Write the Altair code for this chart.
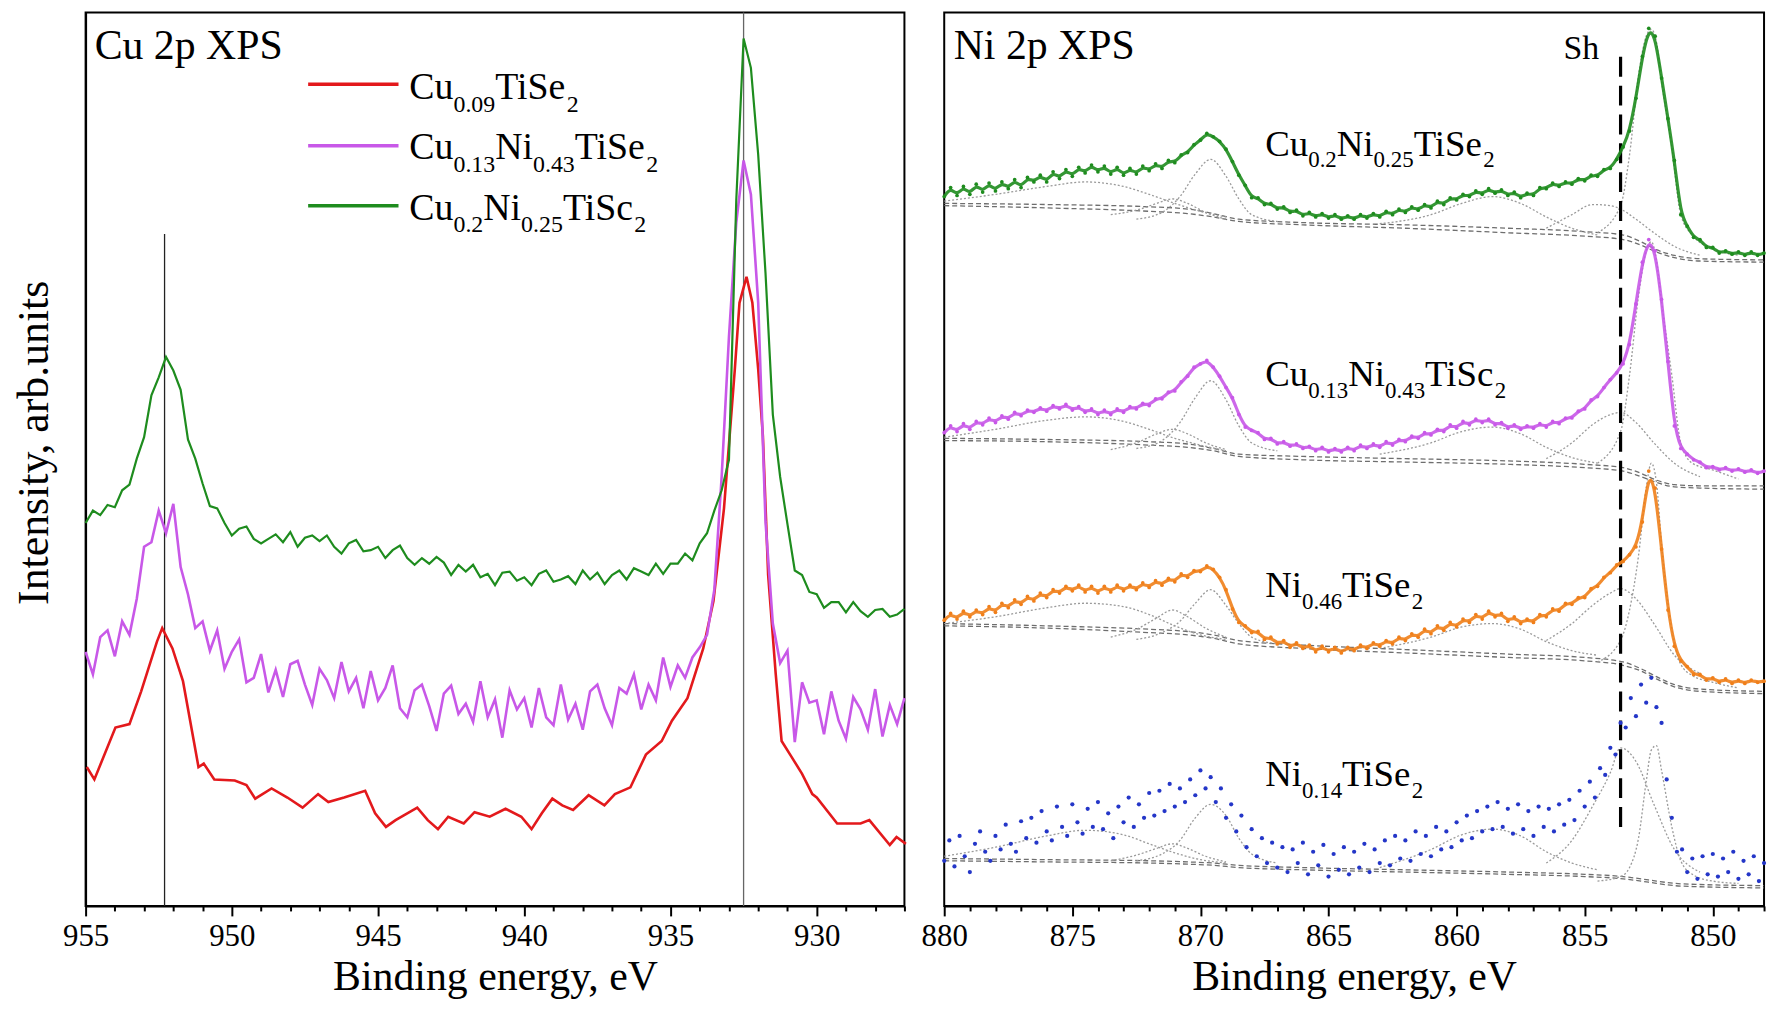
import altair as alt
import pandas as pd

FONT = "Liberation Serif"

# ---------------- Cu 2p XPS (left panel) ----------------
CU_START, CU_STEP = 955.0, 0.25
cu_green = [339, 350, 346, 355, 353, 368, 373, 396, 415, 452, 468, 486, 474, 457, 413, 396,
            374, 354, 352, 339, 328, 334, 336, 325, 321, 325, 329, 322, 331, 318, 326, 328,
            323, 328, 318, 312, 321, 324, 314, 315, 318, 308, 315, 319, 308, 302, 308, 303,
            309, 304, 293, 302, 296, 302, 291, 294, 284, 295, 296, 288, 291, 284, 294, 297,
            287, 289, 292, 285, 297, 289, 295, 285, 293, 297, 289, 299, 296, 293, 303, 294,
            303, 303, 312, 306, 321, 330,
            350, 368, 395, 625, 768, 742, 665, 560, 435, 380, 338,
            297, 293, 278, 276, 264, 269, 269, 260, 269, 261, 256, 262, 263, 256, 258, 263]
cu_magenta = [225, 205, 238, 244, 221, 252, 240, 272, 318, 322, 350, 330, 356, 300, 276, 246,
              252, 226, 244, 210, 225, 236, 198, 202, 223, 189, 209, 185, 214, 217, 196, 178,
              210, 200, 184, 216, 190, 202, 175, 208, 182, 193, 213, 175, 167, 191, 196, 177,
              155, 188, 195, 170, 179, 163, 199, 167, 183, 149, 191, 174, 184, 158, 193, 167,
              160, 196, 165, 179, 156, 190, 196, 175, 160, 193, 188, 205, 174, 196, 182, 220,
              194, 213, 202, 220, 229,
              240, 280, 380, 504, 605, 660, 630, 534, 340, 250, 215, 226, 145, 198, 180,
              182, 152, 190, 164, 148, 185, 174, 156, 192, 150, 178, 161, 184]
cu_red_ev = [954.96, 954.7, 953.98, 953.5, 953.1, 952.56, 952.38, 952.03, 951.67, 951.3, 951.14,
             950.96, 950.6, 949.9, 949.5, 949.2, 948.64, 948.1, 947.58, 947.05, 946.7, 946.16,
             945.44, 945.1, 944.73, 944.4, 944.0, 943.66, 943.3, 942.95, 942.6, 942.07, 941.7,
             941.18, 940.64, 940.1, 939.75, 939.4, 939.04, 938.7, 938.33, 937.8, 937.26, 936.9,
             936.37, 935.84, 935.3, 934.95, 934.42, 933.88, 933.53, 933.17, 932.8, 932.64, 932.4,
             932.2, 932.0, 931.84, 931.66, 931.4, 931.2, 930.86, 930.5, 930.15, 930.0, 929.3,
             928.5, 928.2, 927.5, 927.27, 926.95]
cu_red = [123, 112, 158, 161, 190, 234, 246, 228, 199, 146, 123,
          126, 112, 111, 107, 95, 104, 96, 87, 99, 92, 96,
          102, 82, 70, 76, 82, 87, 76, 68, 79, 73, 83,
          79, 86, 79, 68, 82, 95, 89, 85, 98, 89, 99,
          105, 134, 146, 164, 184, 228, 270, 352, 475, 534, 557,
          534, 475, 416, 293, 205, 146, 132, 117, 99, 96, 73,
          73, 76, 54, 61, 55]
cu_colors = ["#e3191c", "#c858e8", "#1e8c1e"]
cu_mark_ev = [952.3, 932.5]
cu_mark_top = [595, 791]

# ---------------- Ni 2p XPS (right panel) ----------------
NI_START, NI_STEP = 880.0, 0.25
ni_green = [628, 636, 629, 637, 630, 639, 632, 640, 633, 641, 635, 643, 636, 645, 641, 647,
            641, 650, 644, 652, 646, 654, 649, 656, 650, 655, 648, 654, 647, 653, 648, 655,
            651, 657, 653, 660, 658, 665, 667, 674, 678, 684, 681, 677, 670, 659, 647, 638,
            627, 627, 621, 622, 617, 619, 614, 616, 611, 614, 610, 613, 609, 612, 608, 611,
            608, 612, 609, 613, 610, 615, 612, 617, 614, 619, 616, 621, 618, 624, 621, 627,
            625, 630, 628, 633, 630, 635, 631, 634, 629, 632, 627, 631, 629, 636, 635, 640,
            637, 641, 639, 644, 642, 647, 646, 652, 653, 661, 672, 686, 715, 752, 777, 770,
            733, 697, 660, 612, 602, 592, 590, 583, 583, 578, 580, 577, 579, 576, 579, 576, 578]
ni_magenta = [419, 425, 420, 427, 422, 429, 426, 432, 428, 434, 431, 437, 434, 439, 437, 441,
              438, 443, 440, 444, 439, 442, 437, 440, 435, 439, 435, 440, 437, 442, 440, 445,
              443, 449, 449, 455, 456, 464, 469, 477, 480, 483, 477, 469, 459, 450, 435, 424,
              421, 419, 413, 414, 409, 411, 407, 409, 405, 407, 403, 406, 402, 405, 402, 406,
              403, 408, 405, 409, 406, 411, 408, 413, 411, 416, 414, 419, 417, 422, 420, 426,
              423, 429, 426, 431, 428, 431, 426, 428, 423, 426, 422, 425, 423, 427, 424, 429,
              427, 432, 432, 438, 440, 448, 451, 459, 466, 472, 480, 497, 533, 570, 590, 580,
              537, 482, 425, 405, 400, 395, 393, 388, 389, 386, 388, 385, 387, 384, 386, 383, 385]
ni_orange = [253, 259, 254, 261, 256, 262, 258, 265, 260, 268, 264, 271, 267, 274, 270, 277,
             273, 280, 277, 283, 279, 284, 278, 283, 277, 283, 278, 284, 279, 284, 280, 286,
             282, 288, 284, 290, 287, 294, 291, 297, 296, 301, 298, 291, 280, 263, 251, 248,
             242, 243, 236, 238, 232, 235, 229, 233, 228, 231, 225, 230, 225, 229, 224, 229,
             226, 231, 228, 233, 230, 235, 232, 238, 235, 241, 238, 245, 241, 248, 244, 251,
             247, 254, 251, 258, 254, 261, 256, 259, 252, 256, 250, 254, 251, 258, 256, 263,
             261, 268, 267, 273, 273, 281, 283, 291, 295, 302, 305, 311, 318, 340, 385, 370,
             316, 262, 230, 217, 212, 205, 205, 200, 202, 198, 201, 197, 200, 197, 200, 198, 199]
NI_BLUE_STEP = 0.2
ni_blue = [40, 58, 35, 62, 44, 30, 55, 66, 48, 40, 62, 50, 72, 55, 48, 75,
           60, 78, 56, 84, 66, 58, 88, 70, 62, 90, 74, 64, 86, 70, 92, 68,
           82, 60, 88, 74, 96, 70, 90, 78, 100, 80, 102, 84, 108, 88, 104, 92,
           112, 98, 120, 104, 114, 92, 104, 78, 90, 66, 80, 52, 68, 44, 60, 38,
           56, 34, 52, 30, 50, 38, 56, 28, 48, 36, 54, 26, 46, 32, 52, 28,
           48, 34, 55, 30, 50, 38, 58, 36, 62, 42, 58, 40, 66, 46, 62, 44,
           70, 50, 66, 52, 74, 58, 80, 60, 84, 66, 88, 68, 92, 70, 86, 64,
           90, 68, 84, 62, 88, 70, 86, 66, 90, 72, 94, 76, 102, 88, 110, 96,
           122, 116, 140, 134, 162, 158, 184, 168, 196, 180, 202, 176, 162, 112, 78, 48,
           50, 30, 42, 24, 44, 28, 46, 26, 42, 30, 48, 24, 40, 28, 44, 22, 38]
ni_colors = {"CuNi25": "#1e8c1e", "CuNi43": "#c858e8", "Ni46": "#f07f1a", "Ni14": "#2436c8"}
SH_EV = 853.6
SH_RANGE = [70, 755]

# fit components (grey dashed curves)
BG_EV = [880, 876, 872, 870.5, 869.5, 868.5, 866, 862, 858, 855, 853.5, 852.8, 852.2, 851.5, 850.5, 848]
SAT2_EV = [880, 878, 876, 874.5, 873, 872, 871, 870, 869]
P4_EV = [873.5, 872.5, 871.7, 871.1, 870.5, 869.8, 869]
P3_EV = [872.5, 871.5, 870.8, 870.2, 869.6, 869.0, 868.5, 868.0, 867.0]
SAT1_EV = [863, 861, 859.8, 858.6, 857.5, 856.5, 855.5, 854.5]
P2_EV = [856.5, 855.5, 854.7, 854.0, 853.6, 853.0, 852.3, 851.5, 850.5]
P1_EV = [854.5, 853.6, 853.25, 852.9, 852.6, 852.4, 852.2, 852.0, 851.6, 851.25, 850.8, 850, 849]

comp_green = {
    "bg1": [622, 621, 619, 617, 613, 608, 605, 603, 600, 597, 594, 588, 581, 576, 573, 572],
    "bg2": [620, 618, 615, 613, 610, 606, 603, 600, 596, 593, 590, 585, 579, 574, 571, 570],
    "sat2": [624, 630, 637, 641, 637, 630, 622, 615, 610],
    "p4": [612, 616, 622, 626, 622, 614, 608],
    "p3": [608, 614, 628, 648, 661, 646, 626, 612, 606],
    "sat1": [604, 612, 622, 628, 622, 610, 600, 594],
    "p2": [600, 612, 621, 620, 617, 608, 596, 584, 576],
    "p1": [596, 620, 665, 735, 770, 776, 765, 730, 672, 612, 594, 582, 576],
}
comp_magenta = {
    "bg1": [414, 413, 411, 409, 405, 400, 398, 396, 394, 391, 388, 383, 377, 373, 372, 372],
    "bg2": [412, 411, 408, 406, 403, 398, 395, 393, 391, 388, 385, 380, 375, 371, 370, 369],
    "sat2": [415, 422, 430, 433, 429, 422, 414, 408, 403],
    "p4": [404, 410, 418, 422, 418, 410, 404],
    "p3": [405, 412, 428, 450, 465, 448, 425, 410, 403],
    "sat1": [400, 410, 420, 424, 418, 406, 397, 392],
    "p2": [396, 410, 426, 435, 437, 428, 410, 392, 380],
    "p1": [392, 420, 470, 540, 580, 588, 572, 535, 470, 410, 392, 386, 378],
}
comp_orange = {
    "bg1": [250, 248, 245, 243, 240, 235, 231, 227, 223, 220, 216, 210, 203, 196, 192, 190],
    "bg2": [248, 246, 242, 240, 237, 232, 228, 224, 220, 217, 213, 208, 201, 194, 190, 188],
    "sat2": [250, 256, 264, 268, 265, 258, 248, 240, 236],
    "p4": [238, 245, 255, 262, 256, 246, 238],
    "p3": [236, 242, 252, 268, 280, 266, 250, 238, 232],
    "sat1": [228, 238, 247, 250, 245, 234, 226, 222],
    "p2": [235, 250, 266, 277, 281, 272, 250, 222, 206],
    "p1": [216, 235, 262, 310, 370, 392, 375, 320, 245, 214, 204, 198, 193],
}
comp_blue = {
    "bg1": [42, 41, 40, 39, 38, 36, 34, 32, 30, 28, 26, 24, 22, 20, 19, 18],
    "bg2": [40, 39, 38, 37, 36, 34, 32, 30, 28, 26, 24, 22, 20, 18, 17, 16],
    "sat2": [44, 52, 62, 67, 63, 55, 47, 41, 38],
    "p4": [40, 45, 51, 55, 51, 44, 39],
    "p3": [40, 46, 58, 78, 90, 80, 60, 46, 38],
    "sat1": [34, 50, 63, 68, 62, 48, 38, 32],
    "p2": [38, 58, 88, 118, 140, 128, 90, 50, 30],
    "p1": [22, 26, 34, 60, 110, 138, 142, 120, 70, 40, 28, 22, 20],
}
COMP_EV = {"bg1": BG_EV, "bg2": BG_EV, "sat2": SAT2_EV, "p4": P4_EV, "p3": P3_EV,
           "sat1": SAT1_EV, "p2": P2_EV, "p1": P1_EV}

# ---------------- text (with subscripts) ----------------
legend_parts = [
    [("Cu", 0), ("0.09", 1), ("TiSe", 0), ("2", 1)],
    [("Cu", 0), ("0.13", 1), ("Ni", 0), ("0.43", 1), ("TiSe", 0), ("2", 1)],
    [("Cu", 0), ("0.2", 1), ("Ni", 0), ("0.25", 1), ("TiSc", 0), ("2", 1)],
]
legend_y = [727.5, 673, 620]
legend_base = [714, 661.5, 607.7]
legend_line_ev = [947.39, 944.3]
legend_text_ev = 943.93

ni_label_parts = [
    [("Cu", 0), ("0.2", 1), ("Ni", 0), ("0.25", 1), ("TiSe", 0), ("2", 1)],
    [("Cu", 0), ("0.13", 1), ("Ni", 0), ("0.43", 1), ("TiSc", 0), ("2", 1)],
    [("Ni", 0), ("0.46", 1), ("TiSe", 0), ("2", 1)],
    [("Ni", 0), ("0.14", 1), ("TiSe", 0), ("2", 1)],
]
ni_label_base = [664.4, 460.3, 273.9, 106.5]
ni_label_ev = 867.47

# ---------------- layout ----------------
W_L, W_R, H = 823, 824, 898
Y_DOM = [0, 791]
PPV = H / (Y_DOM[1] - Y_DOM[0])
PPE_L = W_L / 28.0
PPE_R = W_R / 32.0

CW = {"C": 0.667, "u": 0.5, "N": 0.722, "i": 0.278, "T": 0.611, "S": 0.556, "e": 0.444,
      "c": 0.444, ".": 0.25, " ": 0.25, "X": 0.722, "P": 0.556, "p": 0.5, "h": 0.5}


def tw(s, size):
    return sum(CW.get(ch, 0.5) for ch in s) * size


def seg_rows(parts, x0, base, F, f, ppe, drop):
    rows, cur = [], 0.0
    for txt, sub in parts:
        size = f if sub else F
        rows.append({"ev": x0 - cur / ppe, "val": base - (drop / PPV if sub else 0.0),
                     "txt": txt, "fs": size})
        cur += tw(txt, size)
    return rows


def xaxis(lo, hi):
    return alt.Axis(
        title="Binding energy, eV",
        values=list(range(lo, hi + 1)),
        format="d",
        labelExpr="datum.value % 5 === 0 ? datum.label : ''",
        tickSize={"condition": {"test": "datum.value % 5 === 0", "value": 10}, "value": 5},
        labelPadding=6, titlePadding=5, grid=False, labelFlush=False, labelOverlap=False,
    )


# ---- left data frames
def grid(n, start, step):
    return [round(start - step * i, 2) for i in range(n)]

df_cu_green = pd.DataFrame({"ev": grid(len(cu_green), CU_START, CU_STEP), "val": cu_green})
df_cu_mag = pd.DataFrame({"ev": grid(len(cu_magenta), CU_START, CU_STEP), "val": cu_magenta})
df_cu_red = pd.DataFrame({"ev": cu_red_ev, "val": cu_red})
df_cu_marks = pd.DataFrame({"ev": cu_mark_ev, "val": [0, 0], "val2": cu_mark_top,
                            "col": ["#222222", "#666666"]})
df_leg = pd.DataFrame({"ev": [legend_line_ev[0]] * 3, "ev2": [legend_line_ev[1]] * 3,
                       "val": legend_y, "col": cu_colors})
rows = [{"ev": 954.69, "val": 749.5, "txt": "Cu 2p XPS", "fs": 42}]
for p, b in zip(legend_parts, legend_base):
    rows += seg_rows(p, legend_text_ev, b, 38, 24, PPE_L, 13)
df_cu_txt = pd.DataFrame(rows)

XL = alt.X("ev:Q", scale=alt.Scale(domain=[955, 927], nice=False, zero=False), axis=xaxis(927, 955))
YL = alt.Y("val:Q", scale=alt.Scale(domain=Y_DOM, nice=False, zero=False),
           axis=alt.Axis(title="Intensity, arb.units", labels=False, ticks=False, grid=False,
                         titleFontSize=44, titlePadding=29, titleY=432))

left = alt.layer(
    alt.Chart(df_cu_marks).mark_rule(strokeWidth=1.3).encode(
        x=XL, y=YL, y2="val2:Q", color=alt.Color("col:N", scale=None)),
    alt.Chart(df_cu_red).mark_line(color=cu_colors[0], strokeWidth=2.6).encode(x=XL, y=YL),
    alt.Chart(df_cu_mag).mark_line(color=cu_colors[1], strokeWidth=2.6).encode(x=XL, y=YL),
    alt.Chart(df_cu_green).mark_line(color=cu_colors[2], strokeWidth=2.2).encode(x=XL, y=YL),
    alt.Chart(df_leg).mark_rule(strokeWidth=3.5).encode(
        x=XL, x2="ev2:Q", y=YL, color=alt.Color("col:N", scale=None)),
    alt.Chart(df_cu_txt).mark_text(align="left", baseline="alphabetic", font=FONT, color="black").encode(
        x=XL, y=YL, text="txt:N", size=alt.Size("fs:Q", scale=None, legend=None)),
).properties(width=W_L, height=H)

# ---- right data frames
df_ni = pd.concat([
    pd.DataFrame({"ev": grid(len(ni_green), NI_START, NI_STEP), "val": ni_green, "s": "CuNi25"}),
    pd.DataFrame({"ev": grid(len(ni_magenta), NI_START, NI_STEP), "val": ni_magenta, "s": "CuNi43"}),
    pd.DataFrame({"ev": grid(len(ni_orange), NI_START, NI_STEP), "val": ni_orange, "s": "Ni46"}),
])
df_blue = pd.DataFrame({"ev": grid(len(ni_blue), NI_START, NI_BLUE_STEP), "val": ni_blue})

crow = []
for sname, comp in [("g", comp_green), ("m", comp_magenta), ("o", comp_orange), ("b", comp_blue)]:
    for cname, vals in comp.items():
        for e, v in zip(COMP_EV[cname], vals):
            crow.append({"ev": e, "val": v, "cid": sname + cname,
                         "kind": "bg" if cname.startswith("bg") else "pk"})
df_comp = pd.DataFrame(crow)

df_sh = pd.DataFrame({"ev": [SH_EV], "val": [SH_RANGE[0]], "val2": [SH_RANGE[1]]})

rows = [{"ev": 879.63, "val": 749.5, "txt": "Ni 2p XPS", "fs": 42},
        {"ev": 855.83, "val": 749.5, "txt": "Sh", "fs": 34}]
for p, b in zip(ni_label_parts, ni_label_base):
    rows += seg_rows(p, ni_label_ev, b, 37, 23, PPE_R, 12)
df_ni_txt = pd.DataFrame(rows)

XR = alt.X("ev:Q", scale=alt.Scale(domain=[880, 848], nice=False, zero=False), axis=xaxis(848, 880))
YR = alt.Y("val:Q", scale=alt.Scale(domain=Y_DOM, nice=False, zero=False), axis=None)
cscale = alt.Scale(domain=list(ni_colors.keys()), range=list(ni_colors.values()))

right = alt.layer(
    alt.Chart(df_comp).transform_filter(alt.datum.kind == "bg").mark_line(
        color="#6e6e6e", strokeWidth=1.3, strokeDash=[5, 3], interpolate="monotone").encode(
        x=XR, y=YR, detail="cid:N"),
    alt.Chart(df_comp).transform_filter(alt.datum.kind == "pk").mark_line(
        color="#9a9a9a", strokeWidth=1.3, strokeDash=[2, 2], interpolate="monotone").encode(
        x=XR, y=YR, detail="cid:N"),
    alt.Chart(df_sh).mark_rule(color="black", strokeWidth=3.2, strokeDash=[20, 9]).encode(
        x=XR, y=YR, y2="val2:Q"),
    alt.Chart(df_ni).mark_line(strokeWidth=3.2, opacity=0.9, interpolate="basis").encode(
        x=XR, y=YR, color=alt.Color("s:N", scale=cscale, legend=None), detail="s:N"),
    alt.Chart(df_ni).mark_point(filled=True, size=14, opacity=1).encode(
        x=XR, y=YR, color=alt.Color("s:N", scale=cscale, legend=None)),
    alt.Chart(df_blue).mark_point(filled=True, size=18, opacity=1, color=ni_colors["Ni14"]).encode(
        x=XR, y=YR),
    alt.Chart(df_ni_txt).mark_text(align="left", baseline="alphabetic", font=FONT, color="black").encode(
        x=XR, y=YR, text="txt:N", size=alt.Size("fs:Q", scale=None, legend=None)),
).properties(width=W_R, height=H)

chart = alt.hconcat(left, right, spacing=40, bounds="flush").properties(
    padding={"left": 4, "top": 0, "right": 0, "bottom": 0},
).configure_view(stroke="black", strokeWidth=2).configure_axis(
    domainColor="black", domainWidth=2, tickColor="black", tickWidth=2,
    labelFont=FONT, titleFont=FONT, labelFontSize=31, titleFontSize=42,
    titleFontWeight="normal", labelColor="black", titleColor="black",
)

chart.save("out.html", embed_options={"renderer": "svg", "actions": False})
